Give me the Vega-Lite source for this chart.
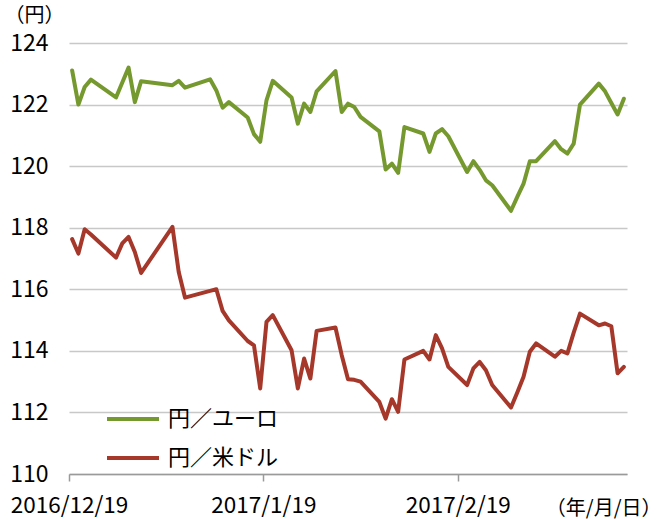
{
  "$schema": "https://vega.github.io/schema/vega-lite/v6.json",
  "width": 558,
  "height": 431,
  "autosize": "none",
  "padding": {"left": 69, "top": 43, "right": 42, "bottom": 46},
  "background": "white",
  "config": {
    "font": "Noto Sans CJK JP",
    "view": {"stroke": null}
  },
  "data": {
    "values": [
      {"date": "2016-12-19T12:00:00Z", "円／ユーロ": 123.11, "円／米ドル": 117.63},
      {"date": "2016-12-20T12:00:00Z", "円／ユーロ": 122.0, "円／米ドル": 117.16},
      {"date": "2016-12-21T12:00:00Z", "円／ユーロ": 122.57, "円／米ドル": 117.95},
      {"date": "2016-12-22T12:00:00Z", "円／ユーロ": 122.81, "円／米ドル": 117.78},
      {"date": "2016-12-26T12:00:00Z", "円／ユーロ": 122.23, "円／米ドル": 117.03},
      {"date": "2016-12-27T12:00:00Z", "円／ユーロ": 122.72, "円／米ドル": 117.49},
      {"date": "2016-12-28T12:00:00Z", "円／ユーロ": 123.2, "円／米ドル": 117.7},
      {"date": "2016-12-29T12:00:00Z", "円／ユーロ": 122.08, "円／米ドル": 117.21},
      {"date": "2016-12-30T12:00:00Z", "円／ユーロ": 122.76, "円／米ドル": 116.53},
      {"date": "2017-01-04T12:00:00Z", "円／ユーロ": 122.63, "円／米ドル": 118.03},
      {"date": "2017-01-05T12:00:00Z", "円／ユーロ": 122.77, "円／米ドル": 116.56},
      {"date": "2017-01-06T12:00:00Z", "円／ユーロ": 122.55, "円／米ドル": 115.73},
      {"date": "2017-01-10T12:00:00Z", "円／ユーロ": 122.82, "円／米ドル": 115.95},
      {"date": "2017-01-11T12:00:00Z", "円／ユーロ": 122.46, "円／米ドル": 116.0},
      {"date": "2017-01-12T12:00:00Z", "円／ユーロ": 121.9, "円／米ドル": 115.3},
      {"date": "2017-01-13T12:00:00Z", "円／ユーロ": 122.08, "円／米ドル": 114.99},
      {"date": "2017-01-16T12:00:00Z", "円／ユーロ": 121.58, "円／米ドル": 114.32},
      {"date": "2017-01-17T12:00:00Z", "円／ユーロ": 121.04, "円／米ドル": 114.18},
      {"date": "2017-01-18T12:00:00Z", "円／ユーロ": 120.79, "円／米ドル": 112.78},
      {"date": "2017-01-19T12:00:00Z", "円／ユーロ": 122.14, "円／米ドル": 114.94},
      {"date": "2017-01-20T12:00:00Z", "円／ユーロ": 122.77, "円／米ドル": 115.16},
      {"date": "2017-01-23T12:00:00Z", "円／ユーロ": 122.23, "円／米ドル": 114.02},
      {"date": "2017-01-24T12:00:00Z", "円／ユーロ": 121.38, "円／米ドル": 112.78},
      {"date": "2017-01-25T12:00:00Z", "円／ユーロ": 122.03, "円／米ドル": 113.75},
      {"date": "2017-01-26T12:00:00Z", "円／ユーロ": 121.76, "円／米ドル": 113.1},
      {"date": "2017-01-27T12:00:00Z", "円／ユーロ": 122.43, "円／米ドル": 114.65},
      {"date": "2017-01-30T12:00:00Z", "円／ユーロ": 123.09, "円／米ドル": 114.76},
      {"date": "2017-01-31T12:00:00Z", "円／ユーロ": 121.76, "円／米ドル": 113.86},
      {"date": "2017-02-01T12:00:00Z", "円／ユーロ": 122.03, "円／米ドル": 113.08},
      {"date": "2017-02-02T12:00:00Z", "円／ユーロ": 121.92, "円／米ドル": 113.06},
      {"date": "2017-02-03T12:00:00Z", "円／ユーロ": 121.6, "円／米ドル": 113.0},
      {"date": "2017-02-06T12:00:00Z", "円／ユーロ": 121.13, "円／米ドル": 112.34},
      {"date": "2017-02-07T12:00:00Z", "円／ユーロ": 119.89, "円／米ドル": 111.8},
      {"date": "2017-02-08T12:00:00Z", "円／ユーロ": 120.08, "円／米ドル": 112.43},
      {"date": "2017-02-09T12:00:00Z", "円／ユーロ": 119.78, "円／米ドル": 112.02},
      {"date": "2017-02-10T12:00:00Z", "円／ユーロ": 121.27, "円／米ドル": 113.72},
      {"date": "2017-02-13T12:00:00Z", "円／ユーロ": 121.06, "円／米ドル": 114.0},
      {"date": "2017-02-14T12:00:00Z", "円／ユーロ": 120.46, "円／米ドル": 113.72},
      {"date": "2017-02-15T12:00:00Z", "円／ユーロ": 121.06, "円／米ドル": 114.51},
      {"date": "2017-02-16T12:00:00Z", "円／ユーロ": 121.2, "円／米ドル": 114.08},
      {"date": "2017-02-17T12:00:00Z", "円／ユーロ": 120.97, "円／米ドル": 113.48},
      {"date": "2017-02-20T12:00:00Z", "円／ユーロ": 119.81, "円／米ドル": 112.89},
      {"date": "2017-02-21T12:00:00Z", "円／ユーロ": 120.16, "円／米ドル": 113.43},
      {"date": "2017-02-22T12:00:00Z", "円／ユーロ": 119.88, "円／米ドル": 113.64},
      {"date": "2017-02-23T12:00:00Z", "円／ユーロ": 119.54, "円／米ドル": 113.37},
      {"date": "2017-02-24T12:00:00Z", "円／ユーロ": 119.38, "円／米ドル": 112.89},
      {"date": "2017-02-27T12:00:00Z", "円／ユーロ": 118.55, "円／米ドル": 112.16},
      {"date": "2017-02-28T12:00:00Z", "円／ユーロ": 119.0, "円／米ドル": 112.65},
      {"date": "2017-03-01T12:00:00Z", "円／ユーロ": 119.43, "円／米ドル": 113.16},
      {"date": "2017-03-02T12:00:00Z", "円／ユーロ": 120.16, "円／米ドル": 113.97},
      {"date": "2017-03-03T12:00:00Z", "円／ユーロ": 120.16, "円／米ドル": 114.24},
      {"date": "2017-03-06T12:00:00Z", "円／ユーロ": 120.81, "円／米ドル": 113.81},
      {"date": "2017-03-07T12:00:00Z", "円／ユーロ": 120.55, "円／米ドル": 114.0},
      {"date": "2017-03-08T12:00:00Z", "円／ユーロ": 120.41, "円／米ドル": 113.92},
      {"date": "2017-03-09T12:00:00Z", "円／ユーロ": 120.73, "円／米ドル": 114.59},
      {"date": "2017-03-10T12:00:00Z", "円／ユーロ": 122.0, "円／米ドル": 115.21},
      {"date": "2017-03-13T12:00:00Z", "円／ユーロ": 122.68, "円／米ドル": 114.83},
      {"date": "2017-03-14T12:00:00Z", "円／ユーロ": 122.43, "円／米ドル": 114.89},
      {"date": "2017-03-15T12:00:00Z", "円／ユーロ": 122.05, "円／米ドル": 114.8},
      {"date": "2017-03-16T12:00:00Z", "円／ユーロ": 121.68, "円／米ドル": 113.27},
      {"date": "2017-03-17T12:00:00Z", "円／ユーロ": 122.19, "円／米ドル": 113.48}
    ]
  },
  "transform": [
    {"fold": ["円／ユーロ", "円／米ドル"], "as": ["pair", "rate"]}
  ],
  "mark": {"type": "line", "strokeWidth": 4, "strokeJoin": "round", "strokeCap": "round"},
  "encoding": {
    "x": {
      "field": "date",
      "type": "temporal",
      "scale": {
        "type": "utc",
        "domain": [
          {"year": 2016, "month": 12, "date": 19, "utc": true},
          {"year": 2017, "month": 3, "date": 18, "utc": true}
        ]
      },
      "axis": {
        "values": [
          {"year": 2016, "month": 12, "date": 19, "utc": true},
          {"year": 2017, "month": 1, "date": 19, "utc": true},
          {"year": 2017, "month": 2, "date": 19, "utc": true}
        ],
        "format": "%Y/%-m/%-d",
        "grid": false,
        "zindex": 1,
        "domainColor": "#9a9a9a",
        "domainWidth": 1.5,
        "tickColor": "#9a9a9a",
        "tickWidth": 1.5,
        "tickSize": 7,
        "labelFontSize": 22.5,
        "labelColor": "#000000",
        "labelPadding": 13,
        "labelFlush": false,
        "labelOverlap": false,
        "title": "（年/月/日）",
        "titleFontSize": 20,
        "titleFontWeight": "normal",
        "titleColor": "#000000",
        "titleX": 592,
        "titleY": 40,
        "titleAlign": "right",
        "titleAnchor": null,
        "titleBaseline": "alphabetic"
      }
    },
    "y": {
      "field": "rate",
      "type": "quantitative",
      "scale": {"domain": [110, 124], "zero": false, "nice": false},
      "axis": {
        "values": [110, 112, 114, 116, 118, 120, 122, 124],
        "grid": true,
        "gridColor": "#c8c8c8",
        "gridWidth": 1.5,
        "domain": false,
        "ticks": false,
        "labelFontSize": 23,
        "labelColor": "#000000",
        "labelPadding": 21,
        "title": "（円）",
        "titleAngle": 0,
        "titleFontSize": 20,
        "titleFontWeight": "normal",
        "titleColor": "#000000",
        "titleX": -65,
        "titleY": -22,
        "titleAlign": "left",
        "titleAnchor": null,
        "titleBaseline": "alphabetic"
      }
    },
    "color": {
      "field": "pair",
      "type": "nominal",
      "scale": {"domain": ["円／ユーロ", "円／米ドル"], "range": ["#76992f", "#a5382a"]},
      "legend": {
        "orient": "none",
        "legendX": 36,
        "legendY": 348,
        "title": null,
        "padding": 0,
        "symbolType": "stroke",
        "symbolSize": 2704,
        "symbolStrokeWidth": 4,
        "labelFontSize": 22,
        "labelColor": "#000000",
        "labelOffset": 7,
        "rowPadding": -16
      }
    }
  }
}
